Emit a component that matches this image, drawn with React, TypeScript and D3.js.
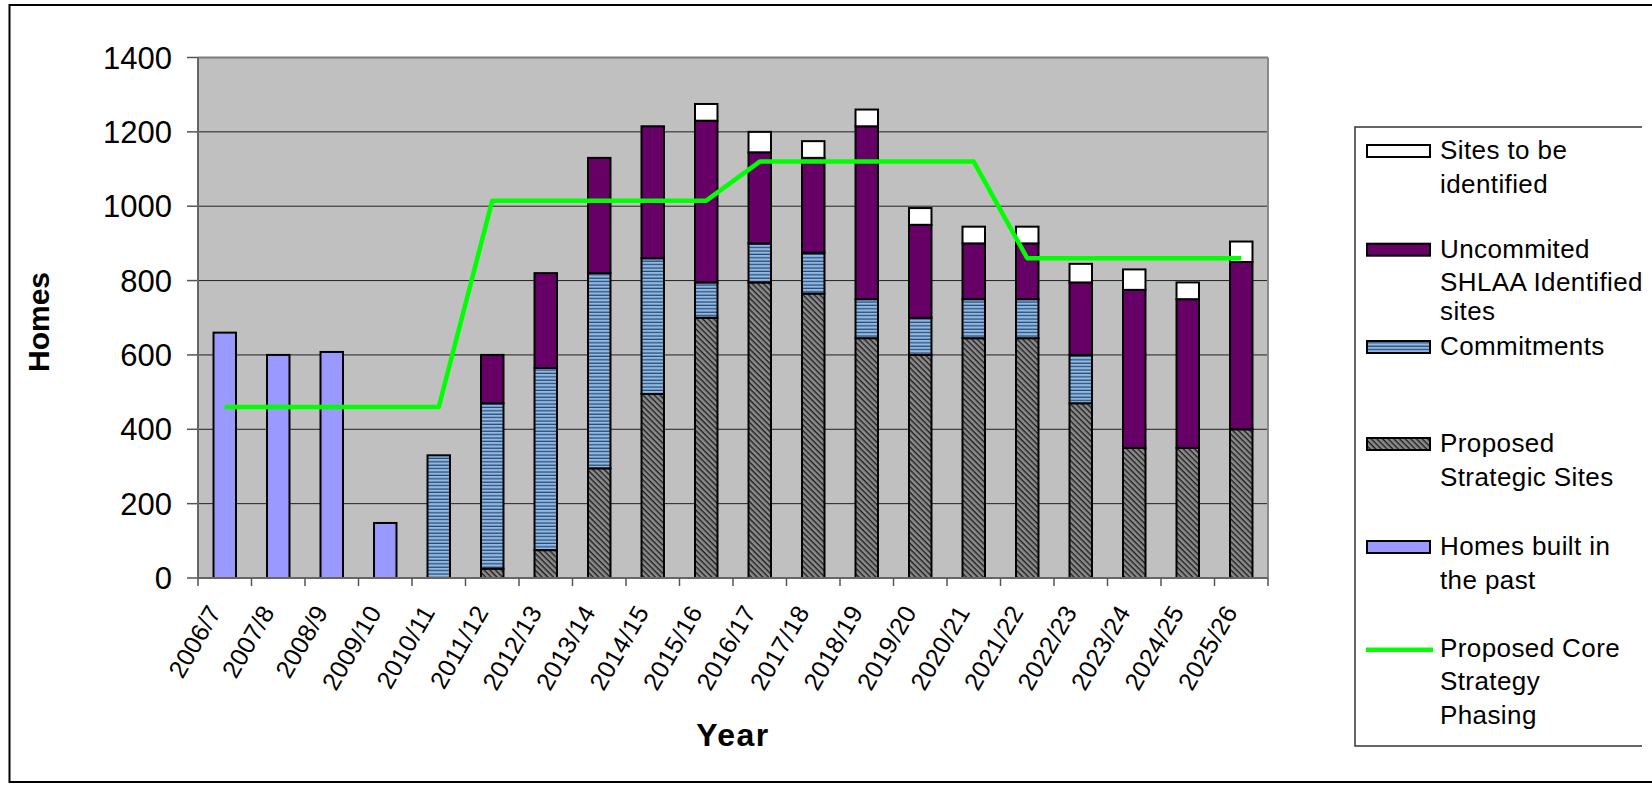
import React from 'react';
import * as d3 from 'd3';

const years = [
  '2006/7', '2007/8', '2008/9', '2009/10', '2010/11', '2011/12', '2012/13', '2013/14', '2014/15', '2015/16',
  '2016/17', '2017/18', '2018/19', '2019/20', '2020/21', '2021/22', '2022/23', '2023/24', '2024/25', '2025/26',
];
const builtPast = [660, 600, 608, 148, 0, 0, 0, 0, 0, 0, 0, 0, 0, 0, 0, 0, 0, 0, 0, 0];
const strategicSites = [0, 0, 0, 0, 0, 25, 75, 295, 495, 700, 795, 765, 645, 600, 645, 645, 470, 350, 350, 400];
const commitments = [0, 0, 0, 0, 330, 445, 490, 525, 365, 95, 105, 110, 105, 100, 105, 105, 130, 0, 0, 0];
const uncommitted = [0, 0, 0, 0, 0, 130, 255, 310, 355, 435, 245, 255, 465, 250, 150, 150, 195, 425, 400, 450];
const toBeIdentified = [0, 0, 0, 0, 0, 0, 0, 0, 0, 45, 55, 45, 45, 45, 45, 45, 50, 55, 45, 55];
const phasing = [460, 460, 460, 460, 460, 1015, 1015, 1015, 1015, 1015, 1120, 1120, 1120, 1120, 1120, 860, 860, 860, 860, 860];
const yTicks = [0, 200, 400, 600, 800, 1000, 1200, 1400];

const FONT = '"Liberation Sans", Arial, sans-serif';
const W = 1652;
const H = 785;
const plot = { left: 198, right: 1268, top: 57.5, bottom: 578 };

const keys = ['past', 'strategic', 'commitments', 'uncommitted', 'tbi'];
const fills: Record<string, string> = {
  past: '#9999FF',
  strategic: 'url(#hatch)',
  commitments: 'url(#stripes)',
  uncommitted: '#660066',
  tbi: '#FFFFFF',
};

const legendItems = [
  { key: 'tbi', lines: ['Sites to be', 'identified'], y: 159 },
  { key: 'uncommitted', lines: ['Uncommited', 'SHLAA Identified', 'sites'], y: 257.7 },
  { key: 'commitments', lines: ['Commitments'], y: 355 },
  { key: 'strategic', lines: ['Proposed', 'Strategic Sites'], y: 452 },
  { key: 'past', lines: ['Homes built in', 'the past'], y: 555 },
  { key: 'line', lines: ['Proposed Core', 'Strategy', 'Phasing'], y: 656.7 },
];

export default function App() {
  const rows = years.map((yr, i) => ({
    year: yr,
    past: builtPast[i],
    strategic: strategicSites[i],
    commitments: commitments[i],
    uncommitted: uncommitted[i],
    tbi: toBeIdentified[i],
  }));
  const series = d3.stack<any>().keys(keys)(rows);

  const x = d3.scaleBand().domain(years).range([plot.left, plot.right]).padding(0);
  const y = d3.scaleLinear().domain([0, 1400]).range([plot.bottom, plot.top]);
  const barW = x.bandwidth() * 0.42;
  const cx = (yr: string) => x(yr)! + x.bandwidth() / 2;

  const line = d3
    .line<number>()
    .x((_, i) => cx(years[i]))
    .y((d) => y(d));

  return (
    <svg width={W} height={H} style={{ position: 'absolute', left: 0, top: 0, background: '#fff' }} fontFamily={FONT}>
      <defs>
        <pattern id="stripes" patternUnits="userSpaceOnUse" width={6} height={3.4}>
          <rect width={6} height={3.4} fill="#8DB8E8" />
          <rect y={2.2} width={6} height={1.2} fill="#2A4666" />
        </pattern>
        <pattern id="hatch" patternUnits="userSpaceOnUse" width={4} height={4} patternTransform="rotate(45)">
          <rect width={4} height={4} fill="#8C8C8C" />
          <rect y={0} width={4} height={1.4} fill="#1E1E1E" />
        </pattern>
        <clipPath id="chartClip">
          <rect x={0} y={0} width={1642} height={H} />
        </clipPath>
      </defs>

      {/* outer frame */}
      <rect x={9.5} y={5} width={1700} height={777} fill="none" stroke="#000" strokeWidth={2} />

      {/* plot area */}
      <rect x={plot.left} y={plot.top} width={plot.right - plot.left} height={plot.bottom - plot.top} fill="#C0C0C0" />
      {yTicks.map((t) => (
        <g key={t}>
          {t > 0 && (
            <line x1={plot.left} x2={plot.right} y1={y(t)} y2={y(t)} stroke={t === 1400 ? '#7a7a7a' : '#222'} strokeWidth={t === 1400 ? 2 : 1} />
          )}
          <line x1={plot.left - 11} x2={plot.left} y1={y(t)} y2={y(t)} stroke="#555" strokeWidth={1.5} />
          <text x={172} y={y(t)} dy="0.36em" textAnchor="end" fontSize={31}>
            {t}
          </text>
        </g>
      ))}
      <line x1={plot.right} x2={plot.right} y1={plot.top} y2={plot.bottom} stroke="#8a8a8a" strokeWidth={2} />

      {/* bars */}
      {series.map((s) =>
        s.map((d, i) =>
          d[1] - d[0] > 0 ? (
            <rect
              key={s.key + i}
              x={cx(years[i]) - barW / 2}
              y={y(d[1])}
              width={barW}
              height={y(d[0]) - y(d[1])}
              fill={fills[s.key]}
              stroke="#000"
              strokeWidth={2}
            />
          ) : null
        )
      )}

      {/* axes */}
      <line x1={plot.left} x2={plot.left} y1={plot.top} y2={plot.bottom} stroke="#666" strokeWidth={2} />
      <line x1={plot.left} x2={plot.right} y1={plot.bottom} y2={plot.bottom} stroke="#666" strokeWidth={2} />
      {years.map((yr) => (
        <line key={'t' + yr} x1={x(yr)!} x2={x(yr)!} y1={plot.bottom} y2={plot.bottom + 8} stroke="#555" strokeWidth={1.5} />
      ))}
      <line x1={plot.right} x2={plot.right} y1={plot.bottom} y2={plot.bottom + 8} stroke="#555" strokeWidth={1.5} />

      {/* phasing line */}
      <path d={line(phasing)!} fill="none" stroke="#00FF00" strokeWidth={4.5} strokeLinejoin="round" />

      {/* x labels */}
      {years.map((yr) => (
        <text
          key={'l' + yr}
          transform={`translate(${cx(yr) - 3},${612}) rotate(-60)`}
          textAnchor="end"
          fontSize={25}
          letterSpacing={0.3}
        >
          {yr}
        </text>
      ))}

      {/* axis titles */}
      <text x={733} y={746} textAnchor="middle" fontSize={32} fontWeight="bold" letterSpacing={1.5}>
        Year
      </text>
      <text transform={`translate(49,322) rotate(-90)`} textAnchor="middle" fontSize={30} fontWeight="bold">
        Homes
      </text>

      {/* legend */}
      <g clipPath="url(#chartClip)">
        <rect x={1355} y={127} width={400} height={619} fill="#fff" stroke="#333" strokeWidth={1.5} />
        {legendItems.map((it) => (
          <g key={it.key}>
            {it.key === 'line' ? (
              <line x1={1366} x2={1433} y1={it.y - 7} y2={it.y - 7} stroke="#00FF00" strokeWidth={4.5} />
            ) : (
              <rect x={1367} y={it.y - 14} width={63} height={12} fill={fills[it.key]} stroke="#000" strokeWidth={2} />
            )}
            {it.lines.map((ln, j) => (
              <text
                key={ln}
                x={1440}
                y={it.y + j * (it.key === 'uncommitted' && j === 2 ? 31 : 33.7)}
                fontSize={26}
                letterSpacing={0.4}
              >
                {ln}
              </text>
            ))}
          </g>
        ))}
      </g>
    </svg>
  );
}
